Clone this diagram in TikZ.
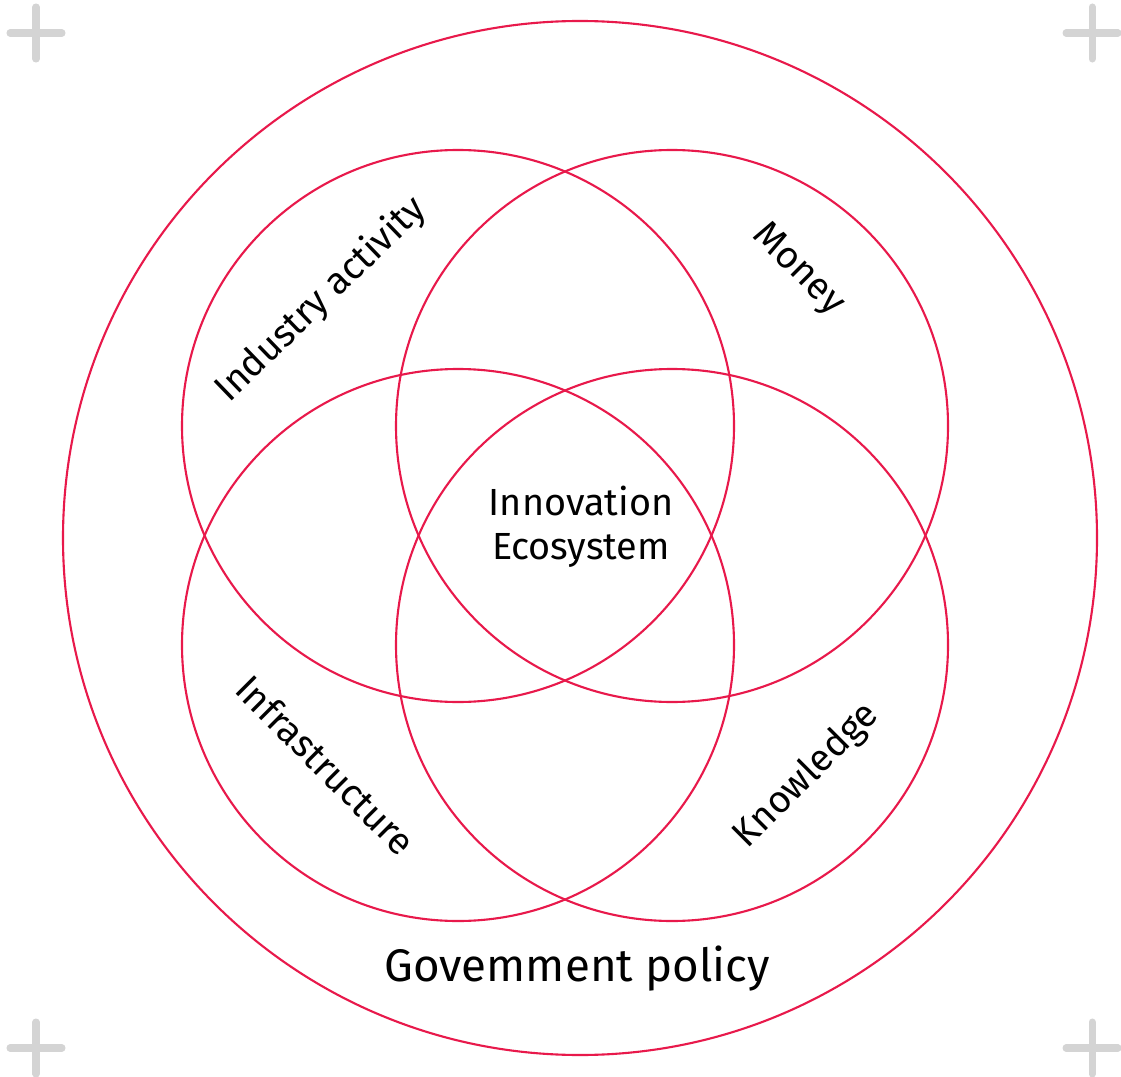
\documentclass[tikz,border=0pt]{standalone}
\usepackage{fontspec}
\setmainfont{Fira Sans}
\definecolor{ringred}{HTML}{E8194B}
\definecolor{markgray}{HTML}{D4D4D4}
\tikzset{
  ring/.style={draw=ringred, line width=1.2pt},
  label/.style={font=\fontsize{21.5}{25}\selectfont, inner sep=0pt},
}
\begin{document}
\begin{tikzpicture}[x=0.02cm, y=-0.02cm]
    \useasboundingbox (0,0) rectangle (1121,1077);
    \begin{scope}

    % corner marks
    \foreach \x/\y in {36/33,1092/33,36/1048,1092/1048}{%
        \draw [markgray, line width=4pt, line cap=round] (\x-26,\y) -- (\x+26,\y);
        \draw [markgray, line width=4pt, line cap=round] (\x,\y-26) -- (\x,\y+26);}

    % outer ring and the four circles
    \draw [ring] (580,538) circle (517);
    \foreach \x/\y in {458/426,672/426,458/645,672/645}
        \draw [ring] (\x,\y) circle (276);

    \node [label, align=center] (eco) at (581,527) {Innovation\\[0pt]Ecosystem};
    \node [label, rotate=44]  (industry) at (321,300) {Industry activity};
    \node [label, rotate=-45] (money) at (798,270) {Money};
    \node [label, rotate=-45] (infra) at (326,765) {Infrastructure};
    \node [label, rotate=45]  (know) at (807,776) {Knowledge};
    \node [label, font=\fontsize{26}{30}\selectfont] (policy) at (577,969) {Govemment policy};
\end{scope}
\end{tikzpicture}
\end{document}
